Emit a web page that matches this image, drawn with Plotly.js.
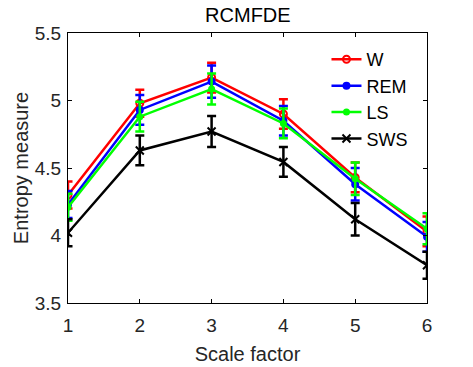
<!DOCTYPE html>
<html><head><meta charset="utf-8">
<script src="https://cdn.plot.ly/plotly-3.0.1.min.js"></script>
<style>body{margin:0;background:#fff}#c{width:473px;height:367px}</style>
</head><body><div id="c"></div>
<script>
var scale = [1, 2, 3, 4, 5, 6];
var W   = [4.30, 4.98, 5.17, 4.90, 4.43, 4.03];
var Werr = [0.10, 0.10, 0.11, 0.11, 0.11, 0.11];
var REM = [4.23, 4.93, 5.14, 4.85, 4.38, 3.99];
var REMerr = [0.10, 0.11, 0.12, 0.11, 0.12, 0.11];
var LS  = [4.21, 4.88, 5.085, 4.83, 4.42, 4.05];
var LSerr = [0.10, 0.11, 0.115, 0.11, 0.12, 0.115];
var SWS = [4.02, 4.63, 4.77, 4.545, 4.12, 3.78];
var SWSerr = [0.10, 0.11, 0.115, 0.11, 0.12, 0.10];

function tr(name, y, err, color, sym, size) {
  return {
    x: scale, y: y, name: name, type: 'scatter', mode: 'lines+markers',
    line: {color: color, width: 2.5},
    marker: {color: color, symbol: sym, size: size, line: {color: color, width: 2}},
    error_y: {type: 'data', array: err, visible: true, color: color, thickness: 2.5, width: 4.5}
  };
}
var data = [
  tr('W', W, Werr, '#ff0000', 'circle-open', 7),
  tr('REM', REM, REMerr, '#0000ff', 'circle', 6),
  tr('LS', LS, LSerr, '#00ff00', 'circle', 5),
  tr('SWS', SWS, SWSerr, '#000000', 'x-thin-open', 8)
];
var FONT = 'Liberation Sans, Arial';
var ax = {
  showline: true, mirror: 'ticks', linecolor: '#000', linewidth: 1,
  ticks: 'inside', ticklen: 4, tickcolor: '#000', showgrid: false, zeroline: false,
  automargin: false,
  tickfont: {family: FONT, size: 19, color: '#262626'}
};
var layout = {
  width: 473, height: 367,
  margin: {l: 68, r: 46, t: 33, b: 64},
  paper_bgcolor: '#fff', plot_bgcolor: '#fff',
  title: {text: 'RCMFDE', font: {family: FONT, size: 20, color: '#000'}, x: 0.524, xanchor: 'center', y: 0.958, yanchor: 'middle'},
  xaxis: Object.assign({}, ax, {range: [1, 6], tickvals: scale, ticklabelstandoff: 5, title: {text: 'Scale factor', font: {family: FONT, size: 20, color: '#262626'}, standoff: 12}}),
  yaxis: Object.assign({}, ax, {range: [3.5, 5.5], tickvals: [3.5, 4, 4.5, 5, 5.5], ticktext: ['3.5','4','4.5','5','5.5'], ticklabelstandoff: 2, title: {text: 'Entropy measure', font: {family: FONT, size: 20, color: '#262626'}, standoff: 0}}),
  showlegend: true,
  legend: {x: 0.72, y: 0.97, xanchor: 'left', yanchor: 'top', bgcolor: 'rgba(255,255,255,0)', borderwidth: 0,
    font: {family: FONT, size: 18, color: '#000'}, tracegroupgap: 0, itemwidth: 30}
};
Plotly.newPlot('c', data, layout, {displayModeBar: false, staticPlot: true});
</script></body></html>
